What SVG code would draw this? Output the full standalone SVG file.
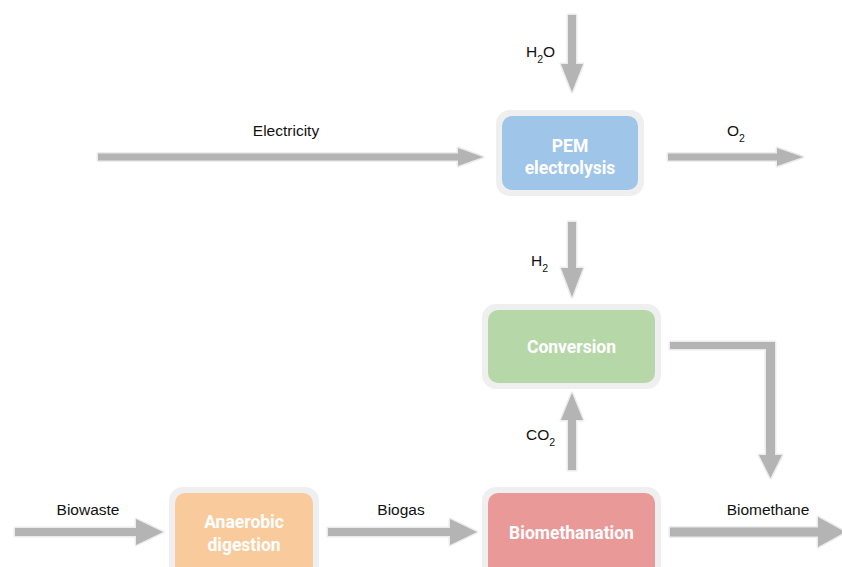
<svg xmlns="http://www.w3.org/2000/svg" width="842" height="567" viewBox="0 0 842 567">
<style>
.arrow{fill:#b4b4b4;stroke:#ececec;stroke-width:3;stroke-linejoin:round;paint-order:stroke}
.halo{fill:#efefef}
.lbl{font-family:"Liberation Sans",Arial,sans-serif;font-size:15.5px;fill:#111}
.sub{font-size:10.5px}
.ntxt{font-family:Roboto,"Liberation Sans",sans-serif;font-size:17.5px;font-weight:bold;fill:#fff;text-anchor:middle}
</style>
<rect width="842" height="567" fill="#fff"/>
<g id="connectors">
<polygon class="arrow" points="568,15 576,15 576,64 583,64 572,92 561,64 568,64"/>
<polygon class="arrow" points="98,153.5 458,153.5 458,148 483,157 458,166 458,160.5 98,160.5"/>
<polygon class="arrow" points="668,153.5 777,153.5 777,148 803,157 777,166 777,160.5 668,160.5"/>
<polygon class="arrow" points="568,222 576,222 576,268 583,268 572,297 561,268 568,268"/>
<polygon class="arrow" points="568,470 576,470 576,420 583,420 572,393 561,420 568,420"/>
<polygon class="arrow" points="670,342 775,342 775,455 782,455 770.5,478 759,455 766,455 766,349 670,349"/>
<polygon class="arrow" points="15,528 136,528 136,519 163,532 136,545 136,536 15,536"/>
<polygon class="arrow" points="328,528 450,528 450,519 477,532 450,545 450,536 328,536"/>
<polygon class="arrow" points="670,527.5 818,527.5 818,517 845,532 818,547 818,536.5 670,536.5"/>
</g>
<g id="labels">
<text class="lbl" x="526" y="57">H<tspan class="sub" dy="6">2</tspan><tspan dy="-6">O</tspan></text>
<text class="lbl" x="286" y="136" text-anchor="middle">Electricity</text>
<text class="lbl" x="727" y="136">O<tspan class="sub" dy="6">2</tspan></text>
<text class="lbl" x="531" y="266">H<tspan class="sub" dy="6">2</tspan></text>
<text class="lbl" x="526" y="440">CO<tspan class="sub" dy="6">2</tspan></text>
<text class="lbl" x="88" y="515" text-anchor="middle">Biowaste</text>
<text class="lbl" x="401" y="515" text-anchor="middle">Biogas</text>
<text class="lbl" x="768" y="515" text-anchor="middle">Biomethane</text>
</g>
<g id="pem">
<rect class="halo" x="496" y="110" width="148" height="86" rx="14"/>
<rect x="502" y="116" width="136" height="74" rx="10" fill="#9fc5e8"/>
<text class="ntxt" x="570" y="152">PEM</text>
<text class="ntxt" x="570" y="174">electrolysis</text>
</g>
<g id="conversion">
<rect class="halo" x="482" y="304" width="179" height="85" rx="14"/>
<rect x="488" y="310" width="167" height="73" rx="10" fill="#b6d7a8"/>
<text class="ntxt" x="571.5" y="353">Conversion</text>
</g>
<g id="biomethanation">
<rect class="halo" x="482" y="487" width="179" height="95" rx="14"/>
<rect x="488" y="493" width="167" height="83" rx="10" fill="#ea9999"/>
<text class="ntxt" x="571.5" y="539">Biomethanation</text>
</g>
<g id="anaerobic">
<rect class="halo" x="169" y="487" width="150" height="95" rx="14"/>
<rect x="175" y="493" width="138" height="83" rx="10" fill="#f9cb9c"/>
<text class="ntxt" x="244" y="528">Anaerobic</text>
<text class="ntxt" x="244" y="551">digestion</text>
</g>
</svg>
